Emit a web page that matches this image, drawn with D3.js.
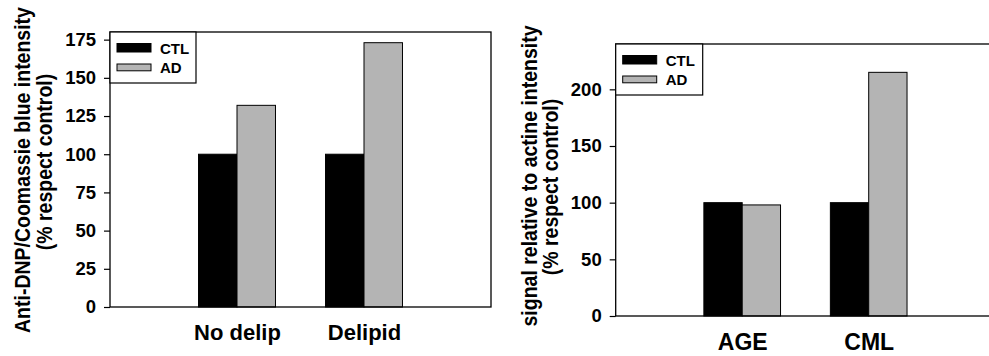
<!DOCTYPE html>
<html>
<head>
<meta charset="utf-8">
<script src="https://cdn.jsdelivr.net/npm/d3@7"></script>
<style>
  html, body { margin: 0; padding: 0; background: #fff; }
  svg { display: block; font-family: "Liberation Sans", Arial, sans-serif; }
</style>
</head>
<body>
<svg id="chart" width="989" height="356"></svg>
<script>
// ---- data ----
const seriesNames = ['CTL', 'AD'];

const categoriesA = ['No delip', 'Delipid'];
const ctlA = [100, 100];
const adA = [132, 173];
const ticksA = [0, 25, 50, 75, 100, 125, 150, 175];
const titleA = ['Anti-DNP/Coomassie blue intensity', '(% respect control)'];

const categoriesB = ['AGE', 'CML'];
const ctlB = [100, 100];
const adB = [98, 215];
const ticksB = [0, 50, 100, 150, 200];
const titleB = ['signal relative to actine intensity', '(% respect control)'];

const colors = { CTL: '#000000', AD: '#b4b4b4' };

const svg = d3.select('#chart');

/**
 * Draw one bar panel (frame, bars, axes, legend, titles).
 */
function drawPanel(cfg) {
  const g = svg.append('g');

  const x = d3.scaleLinear().domain([0, 3]).range([cfg.left, cfg.left + cfg.unit * 3]);
  const y = d3.scaleLinear().domain([0, cfg.yMax]).range([cfg.bottom, cfg.top]);

  const rows = cfg.categories.map((c, i) => ({ cat: c, pos: i + 1, CTL: cfg.ctl[i], AD: cfg.ad[i] }));
  const half = 0.303;

  // bars
  g.append('g').selectAll('rect.ctl')
    .data(rows)
    .join('rect')
    .attr('class', 'ctl')
    .attr('x', d => x(d.pos - half))
    .attr('y', d => y(d.CTL))
    .attr('width', d => x(d.pos) - x(d.pos - half))
    .attr('height', d => y(0) - y(d.CTL))
    .attr('fill', colors.CTL)
    .attr('stroke', '#000')
    .attr('stroke-width', 1);

  g.append('g').selectAll('rect.ad')
    .data(rows)
    .join('rect')
    .attr('class', 'ad')
    .attr('x', d => x(d.pos))
    .attr('y', d => y(d.AD))
    .attr('width', d => x(d.pos + half) - x(d.pos))
    .attr('height', d => y(0) - y(d.AD))
    .attr('fill', colors.AD)
    .attr('stroke', '#000')
    .attr('stroke-width', 1);

  // frame
  g.append('rect')
    .attr('x', x(0))
    .attr('y', y(cfg.yMax))
    .attr('width', x(3) - x(0))
    .attr('height', y(0) - y(cfg.yMax))
    .attr('fill', 'none')
    .attr('stroke', '#000')
    .attr('stroke-width', 1.3);

  // y axis
  const yAxis = g.append('g')
    .attr('transform', `translate(${x(0)},0)`)
    .call(d3.axisLeft(y).tickValues(cfg.ticks).tickSize(6).tickPadding(8));
  yAxis.select('.domain').remove();
  yAxis.selectAll('line').attr('stroke', '#000').attr('stroke-width', 1.2);
  yAxis.selectAll('text')
    .attr('fill', '#000')
    .attr('font-size', '18.5px')
    .attr('font-weight', 'bold')
    .attr('font-family', '"Liberation Sans", Arial, sans-serif');

  // x axis (category labels)
  const xAxis = g.append('g')
    .attr('transform', `translate(0,${y(0)})`)
    .call(d3.axisBottom(x).tickValues(rows.map(d => d.pos))
      .tickFormat((d, i) => cfg.categories[i]).tickSize(0));
  xAxis.select('.domain').remove();
  xAxis.selectAll('text')
    .attr('dy', null)
    .attr('y', cfg.catOffset)
    .attr('fill', '#000')
    .attr('font-size', cfg.catSize)
    .attr('font-weight', 'bold')
    .attr('font-family', '"Liberation Sans", Arial, sans-serif');

  // y title (two rotated lines, a bit wider glyphs like the original scan)
  cfg.title.forEach((t, i) => {
    g.append('text')
      .attr('transform', `translate(${cfg.titleX[i]},${cfg.titleY[i]}) rotate(-90) scale(1,1.12)`)
      .attr('text-anchor', 'middle')
      .attr('font-size', '19.5px')
      .attr('font-weight', 'bold')
      .attr('fill', '#000')
      .text(t);
  });

  // legend
  const lg = g.append('g').attr('transform', `translate(${x(0)},${y(cfg.yMax)})`);
  lg.append('rect')
    .attr('width', cfg.legendW)
    .attr('height', 51)
    .attr('fill', '#fff')
    .attr('stroke', '#000')
    .attr('stroke-width', 1.2);

  const items = lg.selectAll('g.item')
    .data(seriesNames)
    .join('g')
    .attr('class', 'item');

  items.append('rect')
    .attr('x', 7)
    .attr('y', (d, i) => i === 0 ? 11.5 : 32)
    .attr('width', 34)
    .attr('height', (d, i) => i === 0 ? 8.5 : 6.8)
    .attr('fill', d => colors[d])
    .attr('stroke', '#000')
    .attr('stroke-width', 1);

  items.append('text')
    .attr('x', 50)
    .attr('y', (d, i) => i === 0 ? 21.5 : 40.5)
    .attr('font-size', '15px')
    .attr('font-weight', 'bold')
    .attr('fill', '#000')
    .text(d => d);
}

drawPanel({
  categories: categoriesA, ctl: ctlA, ad: adA, ticks: ticksA, title: titleA,
  left: 110, unit: 127, top: 32, bottom: 307, yMax: 180,
  catOffset: 32.5, catSize: '22px',
  titleX: [30, 52], titleY: [170, 162],
  legendW: 86
});

drawPanel({
  categories: categoriesB, ctl: ctlB, ad: adB, ticks: ticksB, title: titleB,
  left: 615.7, unit: 126.5, top: 44, bottom: 316, yMax: 240,
  catOffset: 34, catSize: '23px',
  titleX: [537, 558], titleY: [176, 187],
  legendW: 87
});
</script>
</body>
</html>
